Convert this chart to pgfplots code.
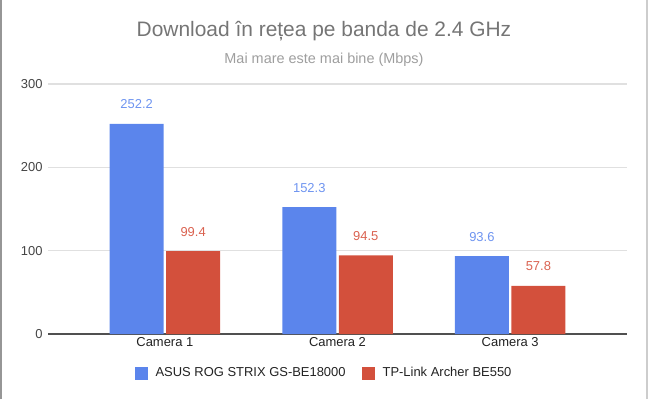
\documentclass[border=0pt]{standalone}
\usepackage{pgfplots}
\pgfplotsset{compat=1.18}
\usepackage{fontspec}
\setmainfont{Liberation Sans}
\definecolor{cblue}{RGB}{91,133,236}
\definecolor{cred}{RGB}{211,80,60}
\definecolor{lblue}{RGB}{110,148,240}
\definecolor{lred}{RGB}{218,98,80}
\definecolor{gridc}{RGB}{224,224,224}
\definecolor{axc}{RGB}{80,80,80}
\definecolor{titc}{RGB}{117,117,117}
\definecolor{subc}{RGB}{158,158,158}
\definecolor{tickc}{RGB}{68,68,68}
\definecolor{txtc}{RGB}{34,34,34}
\begin{document}
\begin{tikzpicture}[x=1bp,y=1bp]
\path[use as bounding box] (0,0) rectangle (648,399);
\draw[line width=1.5bp, color={rgb,255:red,150;green,150;blue,150}] (0.75,0) -- (0.75,399);
\draw[line width=1.5bp, color={rgb,255:red,205;green,205;blue,205}] (646.75,0) -- (646.75,399);
\node[font=\fontsize{21}{24}\selectfont, text=titc, anchor=base] at (324,362.5) {Download în rețea pe banda de 2.4 GHz};
\node[font=\fontsize{14.5}{17}\selectfont, text=subc, anchor=base] at (324,336) {Mai mare este mai bine (Mbps)};
\begin{axis}[
  at={(48bp,65bp)}, anchor=south west,
  scale only axis, width=579bp, height=250bp,
  ybar=2.5bp, bar width=54bp,
  xmin=-0.677, xmax=2.677, ymin=0, ymax=300,
  axis x line*=bottom, axis y line*=left,
  y axis line style={draw=none},
  xtick=data, xticklabels={Camera 1,Camera 2,Camera 3},
  x tick label style={font=\fontsize{13}{15}\selectfont, text=txtc, anchor=base, yshift=-8bp},
  xtick style={draw=none},
  x axis line style={draw=axc, line width=1.3bp, -},
  ytick={0,100,200,300},
  ytick style={draw=none},
  y tick label style={font=\fontsize{13}{15}\selectfont, text=tickc, xshift=-2bp},
  ymajorgrids, grid style={gridc, line width=1.2bp},
  /pgf/number format/assume math mode=true,
  /pgf/number format/fixed, /pgf/number format/fixed zerofill, /pgf/number format/precision=1,
  yticklabel={\pgfmathprintnumber[fixed zerofill=false, precision=0]{\tick}},
  nodes near coords,
  every node near coord/.append style={font=\fontsize{13}{15}\selectfont, anchor=base, yshift=15bp},
  legend style={at={(0.4767,-0.156)}, anchor=center, draw=none, fill=none,
    legend columns=2, font=\fontsize{13}{15}\selectfont, text=txtc,
    /tikz/every even column/.append style={column sep=14bp}},
  legend image code/.code={\fill[#1] (0bp,-6.5bp) rectangle (13bp,6.5bp); \path (19bp,0bp);},
  legend cell align=left,
  clip=false,
]
\addplot[fill=cblue, draw=none, nodes near coords style={text=lblue}] coordinates {(0,252.2) (1,152.3) (2,93.6)};
\addplot[fill=cred, draw=none, nodes near coords style={text=lred}] coordinates {(0,99.4) (1,94.5) (2,57.8)};
\legend{ASUS ROG STRIX GS-BE18000, TP-Link Archer BE550}
\end{axis}
\end{tikzpicture}
\end{document}
